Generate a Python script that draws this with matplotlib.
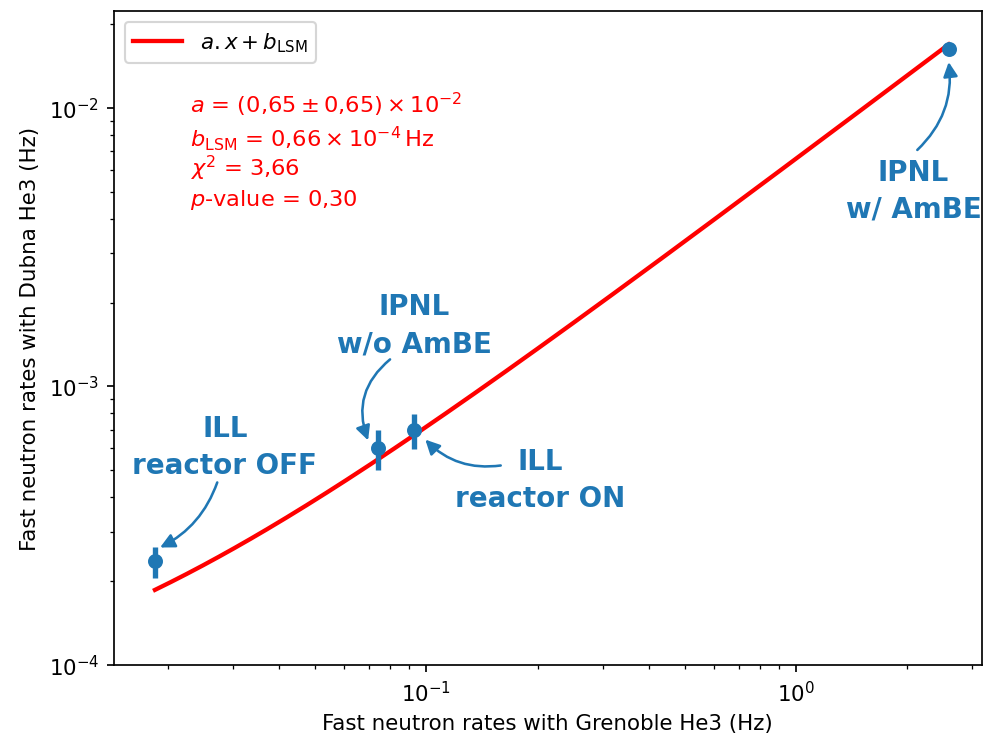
import numpy as np
import matplotlib
matplotlib.use("Agg")
import matplotlib.pyplot as plt

# mesures (Hz)
x_grenoble = [0.01845, 0.0741, 0.0927, 2.59]
y_dubna = [2.36e-4, 6.0e-4, 6.96e-4, 1.62e-2]
y_err = [0.30e-4, 1.0e-4, 1.0e-4, 0.06e-2]

# ajustement lineaire a.x + b
a_fit = 0.65e-2
b_fit = 0.66e-4

# annotations : texte + position
labels = ["ILL\nreactor OFF", "IPNL\nw/o AmBE", "ILL\nreactor ON", "IPNL\nw/ AmBE"]
label_x = [0.0285, 0.0930, 0.203, 2.08]
label_y = [6.05e-4, 1.66e-3, 4.62e-4, 5.04e-3]

# fleches : depart, arrivee, courbure
arrow_from_x = [0.0272, 0.0798, 0.159, 2.13]
arrow_from_y = [4.52e-4, 1.25e-3, 5.20e-4, 7.06e-3]
arrow_to_x = [0.01905, 0.0696, 0.0994, 2.59]
arrow_to_y = [2.64e-4, 6.40e-4, 6.44e-4, 1.46e-2]
arrow_rad = [-0.2, 0.35, -0.25, 0.25]

fit_lines = [
    r"$a$ = $(0{,}65 \pm 0{,}65) \times 10^{-2}$",
    r"$b_{\mathrm{LSM}}$ = $0{,}66 \times 10^{-4}\,\mathrm{Hz}$",
    r"$\chi^2$ = $3{,}66$",
    r"$p$-value = 0,30",
]
fit_text_y = [0.8576, 0.807, 0.761, 0.712]

fig, ax = plt.subplots(figsize=(6.4, 4.79), dpi=154)
fig.subplots_adjust(left=0.1157, right=0.996, top=0.9837, bottom=0.0977)

x_line = np.logspace(np.log10(min(x_grenoble)), np.log10(max(x_grenoble)), 200)
ax.plot(x_line, a_fit * x_line + b_fit, color="red", lw=2, label=r"$a.x + b_{\mathrm{LSM}}$")

ax.errorbar(x_grenoble, y_dubna, yerr=y_err, fmt="o", color="C0",
            elinewidth=2.5, markersize=6, capsize=0)

for txt, tx, ty in zip(labels, label_x, label_y):
    ax.text(tx, ty, txt, ha="center", va="center", fontsize=13,
            fontweight="bold", color="C0", linespacing=1.4)

for x0, y0, x1, y1, rad in zip(arrow_from_x, arrow_from_y, arrow_to_x, arrow_to_y, arrow_rad):
    ax.annotate("", xy=(x1, y1), xytext=(x0, y0),
                arrowprops=dict(arrowstyle="-|>", color="C0", lw=1.2,
                                shrinkA=0, shrinkB=0, mutation_scale=14,
                                connectionstyle=f"arc3,rad={rad}"))

for line, ty in zip(fit_lines, fit_text_y):
    ax.text(0.088, ty, line, transform=ax.transAxes,
            color="red", fontsize=10.5, ha="left", va="center")

ax.set_xscale("log")
ax.set_yscale("log")
ax.set_xlim(0.0143, 3.18)
ax.set_ylim(1e-4, 0.0222)
ax.set_xlabel("Fast neutron rates with Grenoble He3 (Hz)")
ax.set_ylabel("Fast neutron rates with Dubna He3 (Hz)")
ax.legend(loc="upper left", handlelength=2.3)

fig.savefig("out.png", dpi=154)
